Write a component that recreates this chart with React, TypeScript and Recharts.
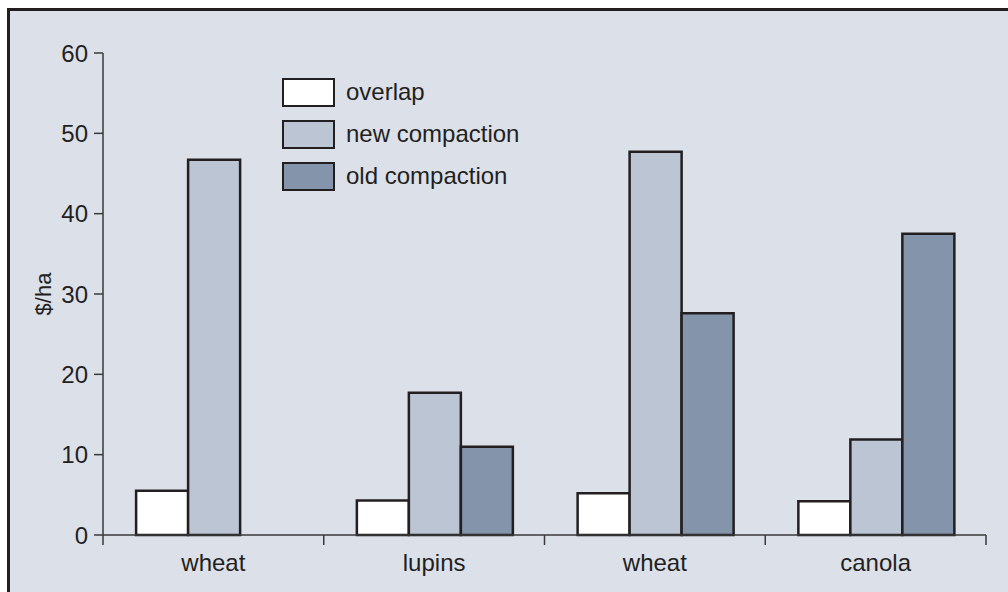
import { Bar, BarChart, Legend, XAxis, YAxis } from "recharts";

const crops = ["wheat", "lupins", "wheat", "canola"];
const overlap = [5.5, 4.3, 5.2, 4.2];
const newCompaction = [46.7, 17.7, 47.7, 11.9];
const oldCompaction = [null, 11.0, 27.6, 37.5];
const yTicks = [0, 10, 20, 30, 40, 50, 60];

const series = [
  { key: "overlap", label: "overlap", fill: "#ffffff" },
  { key: "newCompaction", label: "new compaction", fill: "#bcc5d4" },
  { key: "oldCompaction", label: "old compaction", fill: "#8494aa" },
];

const data = crops.map((crop, i) => ({
  crop,
  overlap: overlap[i],
  newCompaction: newCompaction[i],
  oldCompaction: oldCompaction[i],
}));

const ink = "#231f20";
const axisGrey = "#3a3a3a";
const font = "'Liberation Sans', Arial, sans-serif";

// category label in the middle, tick marks at the band edges
function CropTick(props: any) {
  const { x, y, payload, index } = props;
  const half = payload.offset || 0;
  const base = y - 19;
  return (
    <g>
      <line x1={x - half} x2={x - half} y1={base} y2={base + 10} stroke={axisGrey} strokeWidth={1.5} />
      {index === crops.length - 1 && (
        <line x1={x + half} x2={x + half} y1={base} y2={base + 10} stroke={axisGrey} strokeWidth={1.5} />
      )}
      <text x={x} y={y} dy="0.71em" textAnchor="middle" fill={ink} fontSize={24} fontFamily={font}>
        {payload.value}
      </text>
    </g>
  );
}

function LegendBox() {
  return (
    <div style={{ fontFamily: font, fontSize: 24, color: ink }}>
      {series.map((s) => (
        <div
          key={s.key}
          style={{ display: "flex", alignItems: "center", height: 42 }}
        >
          <div
            style={{
              width: 49,
              height: 25,
              background: s.fill,
              border: `2.5px solid ${ink}`,
              marginRight: 11,
            }}
          />
          <span>{s.label}</span>
        </div>
      ))}
    </div>
  );
}

export default function App() {
  return (
    <div
      style={{
        position: "absolute",
        left: 0,
        top: 0,
        width: 1008,
        height: 592,
        overflow: "hidden",
        background: "#ffffff",
      }}
    >
      <div
        style={{
          position: "absolute",
          left: 7,
          top: 8,
          width: 1020,
          height: 600,
          borderTop: `3px solid ${ink}`,
          borderLeft: `3px solid ${ink}`,
          background: "#dce0e9",
        }}
      />
      <div style={{ position: "absolute", left: 0, top: 0 }}>
        <BarChart
          width={1008}
          height={592}
          data={data}
          margin={{ top: 53, right: 22, left: 0, bottom: 0 }}
          barCategoryGap="15%"
          barGap={0}
        >
          <XAxis
            dataKey="crop"
            height={57}
            tickLine={false}
            tickSize={0}
            tickMargin={19}
            axisLine={{ stroke: axisGrey, strokeWidth: 1.5 }}
            tick={<CropTick />}
            interval={0}
          />
          <YAxis
            width={103}
            domain={[0, 60]}
            ticks={yTicks}
            tickSize={9}
            tickMargin={6}
            axisLine={{ stroke: axisGrey, strokeWidth: 1.5 }}
            tickLine={{ stroke: axisGrey, strokeWidth: 1.5 }}
            tick={{ fill: ink, fontSize: 24, fontFamily: font }}
            label={{
              value: "$/ha",
              angle: -90,
              position: "center",
              dx: -8,
              fill: ink,
              fontSize: 22,
              fontFamily: font,
            }}
          />
          <Legend
            layout="vertical"
            align="center"
            verticalAlign="middle"
            wrapperStyle={{ left: 282, top: 71, width: 260 }}
            content={() => <LegendBox />}
          />
          {series.map((s) => (
            <Bar
              key={s.key}
              dataKey={s.key}
              name={s.label}
              fill={s.fill}
              stroke={ink}
              strokeWidth={2.5}
              isAnimationActive={false}
            />
          ))}
        </BarChart>
      </div>
    </div>
  );
}
